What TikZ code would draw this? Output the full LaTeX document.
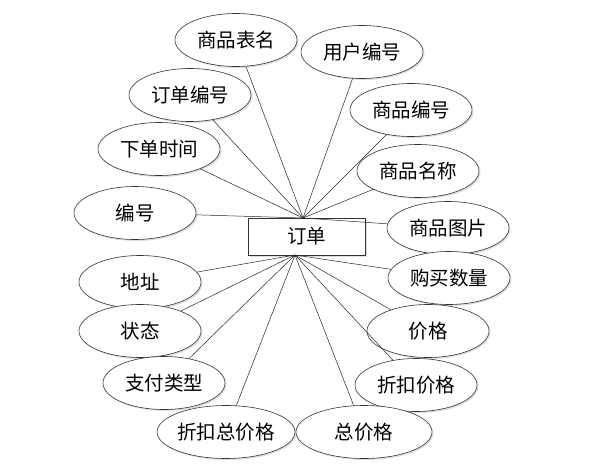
\documentclass[tikz,border=0pt]{standalone}
\usepackage{fontspec}
\newfontfamily\cjk{Noto Sans CJK SC}
\usetikzlibrary{shapes.geometric,shadows}
\begin{document}
\begin{tikzpicture}[x=1pt,y=-1pt,
  attr/.style={ellipse,draw=black!80,line width=0.6pt,fill=white,inner sep=0pt,
    minimum width=122pt,minimum height=53pt,font=\cjk\fontsize{19.5}{19.5}\selectfont,
    drop shadow={opacity=0.25,shadow xshift=1.5pt,shadow yshift=-1.5pt}},
  ent/.style={rectangle,draw=black!80,line width=0.6pt,fill=white,minimum width=117pt,
    minimum height=37pt,inner sep=0pt,font=\cjk\fontsize{19.5}{19.5}\selectfont,
    drop shadow={opacity=0.25,shadow xshift=1.5pt,shadow yshift=-1.5pt}},
  link/.style={draw=black!85,line width=0.5pt}]
\useasboundingbox (0,0) rectangle (611,469);
\fill[white] (0,0) rectangle (611,469);
\node[ent] (o) at (306.5,236.5) {订单};
\coordinate (t) at (303,218);
\coordinate (b) at (295,255);
% top attributes
\node[attr] (a1) at (236,40) {商品表名};
\node[attr] (a2) at (362,52) {用户编号};
\node[attr] (a3) at (190,95) {订单编号};
\node[attr] (a4) at (411,110) {商品编号};
\node[attr] (a5) at (159,149) {下单时间};
\node[attr] (a6) at (418,171) {商品名称};
\node[attr] (a7) at (135,213) {编号};
\node[attr] (a8) at (448,228) {商品图片};
% bottom attributes
\node[attr] (c1) at (140,282) {地址};
\node[attr] (c2) at (449,278) {购买数量};
\node[attr] (c3) at (140,331) {状态};
\node[attr] (c4) at (428,331) {价格};
\node[attr] (c5) at (164,383) {支付类型};
\node[attr] (c6) at (416,385) {折扣价格};
\node[attr] (c7) at (226,432) {折扣总价格};
\node[attr,minimum width=136pt] (c8) at (364,432) {总价格};
\foreach \n in {a1,a2,a3,a4,a5,a6,a7,a8}{\draw[link] (\n) -- (t);}
\foreach \n in {c1,c2,c3,c4,c5,c6,c7,c8}{\draw[link] (\n) -- (b);}
\end{tikzpicture}
\end{document}
